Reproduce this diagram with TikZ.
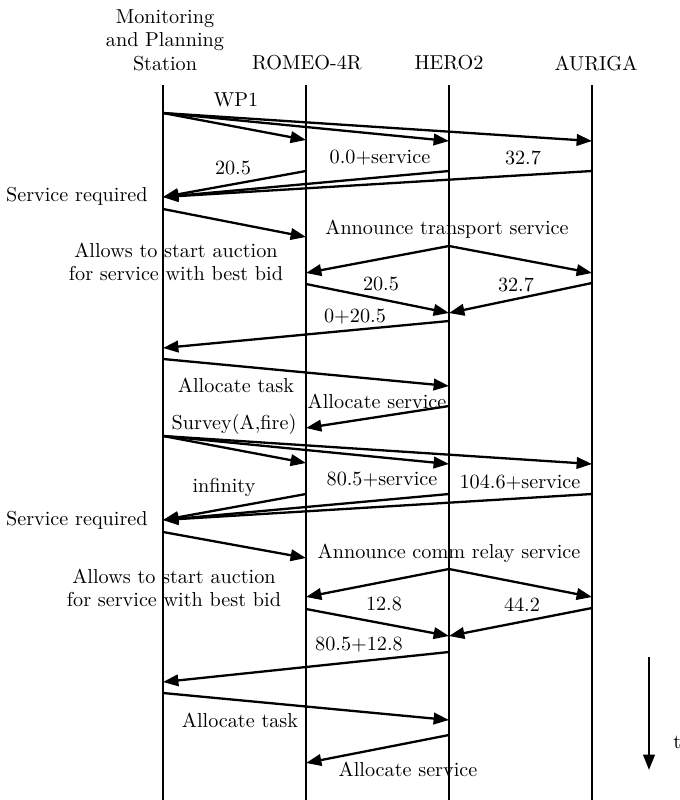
\documentclass[tikz,border=0pt]{standalone}
\usetikzlibrary{arrows.meta}
\begin{document}
\begin{tikzpicture}[x=0.52pt,y=-0.52pt,
  life/.style={line width=1.2pt},
  msg/.style={line width=1.2pt,-{Triangle[length=8pt,width=6pt]}},
  lbl/.style={font=\fontsize{10.5}{12.2}\selectfont,inner sep=0pt},
  hdr/.style={font=\fontsize{10.5}{12.2}\selectfont,inner sep=0pt,align=center}]
\useasboundingbox (0,0) rectangle (680,800);
% headers
\node[hdr] (hM) at (165,40) {Monitoring\\and Planning\\Station};
\node[hdr] (hR) at (307,63) {ROMEO-4R};
\node[hdr] (hH) at (449,63) {HERO2};
\node[hdr] (hA) at (596,63) {AURIGA};
% lifelines
\foreach \n/\x in {M/163,R/306,H/449,A/592}{
  \coordinate (\n top) at (\x,85);
  \coordinate (\n bot) at (\x,800);
  \draw[life] (\n top) -- (\n bot);
}
% phase 1
\coordinate (m1) at (163,113);
\coordinate (r1) at (306,140);
\coordinate (h1) at (449,141);
\coordinate (a1) at (592,141);
\draw[msg] (m1) -- (r1);
\draw[msg] (m1) -- (h1);
\draw[msg] (m1) -- (a1);
\node[lbl] (wp1) at (236,100) {WP1};
\coordinate (r2) at (306,171);
\coordinate (h2) at (449,171);
\coordinate (a2) at (592,171);
\coordinate (m2) at (163,197);
\draw[msg] (r2) -- (m2);
\draw[msg] (h2) -- (m2);
\draw[msg] (a2) -- (m2);
\node[lbl] (l205) at (233,168) {20.5};
\node[lbl] (l00) at (380,158) {0.0+service};
\node[lbl] (l327) at (523,158) {32.7};
\node[lbl,anchor=east] (sr1) at (148,196) {Service required};
% announce transport
\coordinate (m3) at (163,209);
\coordinate (r3) at (306,237);
\draw[msg] (m3) -- (r3);
\node[lbl] (ann1) at (447,229) {Announce transport service};
\node[hdr] (allow1) at (176,262) {Allows to start auction\\for service with best bid};
\coordinate (h4) at (449,246);
\coordinate (r4) at (306,273);
\coordinate (a4) at (592,273);
\draw[msg] (h4) -- (r4);
\draw[msg] (h4) -- (a4);
\coordinate (r5) at (306,284);
\coordinate (a5) at (592,283);
\coordinate (h5) at (449,313);
\draw[msg] (r5) -- (h5);
\draw[msg] (a5) -- (h5);
\node[lbl] (b205) at (381,284) {20.5};
\node[lbl] (b327) at (516,285) {32.7};
\node[lbl] (c205) at (355,317) {0+20.5};
\coordinate (h6) at (449,321);
\coordinate (m6) at (163,348);
\draw[msg] (h6) -- (m6);
\coordinate (m7) at (163,359);
\coordinate (h7) at (449,386);
\draw[msg] (m7) -- (h7);
\node[lbl] (at1) at (236,385) {Allocate task};
\node[lbl] (as1) at (377,401) {Allocate service};
\coordinate (h8) at (449,406);
\coordinate (r8) at (306,428);
\draw[msg] (h8) -- (r8);
\node[lbl] (surv) at (234,424) {Survey(A,fire)};
% phase 2
\coordinate (m9) at (163,436);
\coordinate (r9) at (306,463);
\coordinate (h9) at (449,464);
\coordinate (a9) at (592,464);
\draw[msg] (m9) -- (r9);
\draw[msg] (m9) -- (h9);
\draw[msg] (m9) -- (a9);
\node[lbl] (inf) at (224,487) {infinity};
\node[lbl] (l805) at (382,480) {80.5+service};
\node[lbl] (l1046) at (520,482) {104.6+service};
\coordinate (r10) at (306,494);
\coordinate (h10) at (449,494);
\coordinate (a10) at (592,494);
\coordinate (m10) at (163,520);
\draw[msg] (r10) -- (m10);
\draw[msg] (h10) -- (m10);
\draw[msg] (a10) -- (m10);
\node[lbl,anchor=east] (sr2) at (148,520) {Service required};
\coordinate (m11) at (163,532);
\coordinate (r11) at (306,558);
\draw[msg] (m11) -- (r11);
\node[lbl] (ann2) at (449,553) {Announce comm relay service};
\node[hdr] (allow2) at (174,588) {Allows to start auction\\for service with best bid};
\coordinate (h12) at (449,569);
\coordinate (r12) at (306,597);
\coordinate (a12) at (592,597);
\draw[msg] (h12) -- (r12);
\draw[msg] (h12) -- (a12);
\coordinate (r13) at (306,609);
\coordinate (a13) at (592,608);
\coordinate (h13) at (449,636);
\draw[msg] (r13) -- (h13);
\draw[msg] (a13) -- (h13);
\node[lbl] (b128) at (384,604) {12.8};
\node[lbl] (b442) at (522,605) {44.2};
\node[lbl] (c128) at (359,645) {80.5+12.8};
\coordinate (h14) at (449,652);
\coordinate (m14) at (163,682);
\draw[msg] (h14) -- (m14);
\coordinate (m15) at (163,693);
\coordinate (h15) at (449,720);
\draw[msg] (m15) -- (h15);
\node[lbl] (at2) at (240,720) {Allocate task};
\coordinate (h16) at (449,735);
\coordinate (r16) at (306,763);
\draw[msg] (h16) -- (r16);
\node[lbl] (as2) at (408,769) {Allocate service};
% time arrow
\coordinate (t0) at (649,657);
\coordinate (t1) at (649,770);
\draw[msg] (t0) -- (t1);
\node[lbl,anchor=west] (tl) at (673,742) {t};
\end{tikzpicture}
\end{document}
